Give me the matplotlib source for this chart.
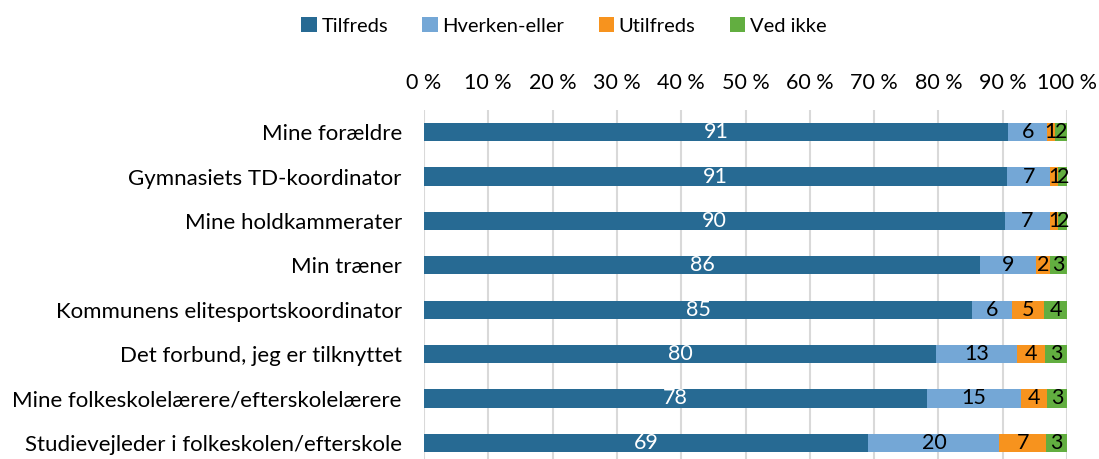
import matplotlib.pyplot as plt
import numpy as np

plt.rcParams['font.family'] = ['Lato', 'DejaVu Sans']

categories = [
    'Mine forældre',
    'Gymnasiets TD-koordinator',
    'Mine holdkammerater',
    'Min træner',
    'Kommunens elitesportskoordinator',
    'Det forbund, jeg er tilknyttet',
    'Mine folkeskolelærere/efterskolelærere',
    'Studievejleder i folkeskolen/efterskole',
]
series = ['Tilfreds', 'Hverken-eller', 'Utilfreds', 'Ved ikke']
tilfreds = [90.9, 90.7, 90.3, 86.5, 85.3, 79.6, 78.2, 69.1]
hverken = [6.0, 6.7, 7.1, 8.7, 6.1, 12.6, 14.7, 20.4]
utilfreds = [1.2, 1.2, 1.2, 2.1, 5.0, 4.4, 4.0, 7.2]
ved_ikke = [1.9, 1.5, 1.5, 2.8, 3.7, 3.4, 3.1, 3.3]
xticks = np.arange(0, 101, 10)

colors = ['#276A93', '#74A7D6', '#F7931E', '#62AE40']
text_colors = ['white', 'black', 'black', 'black']

fig = plt.figure(figsize=(10.99, 4.59), dpi=100)
ax = fig.add_axes([424 / 1099, -6 / 459, (1067 - 424) / 1099, (459 - 110 + 6) / 459])

y = np.arange(len(categories))
left = np.zeros(len(categories))
for name, vals, c, tc in zip(series, [tilfreds, hverken, utilfreds, ved_ikke], colors, text_colors):
    vals = np.array(vals)
    ax.barh(y, vals, left=left, height=0.41, color=c, label=name, zorder=3)
    for yi, l, v in zip(y, left, vals):
        ax.text(l + v / 2, yi, f'{round(v):d}', ha='center', va='center',
                color=tc, fontsize=15.5, zorder=4)
    left += vals

ax.set_xlim(0, 100)
ax.set_ylim(len(categories) - 0.5, -0.5)
ax.set_yticks(y)
ax.set_yticklabels(categories, fontsize=16)
ax.set_xticks(xticks)
ax.set_xticklabels([f'{t} %' for t in xticks], fontsize=15.5)
ax.xaxis.tick_top()
ax.tick_params(axis='both', length=0)
ax.tick_params(axis='x', pad=12)
ax.tick_params(axis='y', pad=16)
ax.grid(axis='x', color='#D9D9D9', linewidth=1.5, zorder=0)
for s in ax.spines.values():
    s.set_visible(False)

handles, labels = ax.get_legend_handles_labels()
fig.legend(handles, labels, loc='center', bbox_to_anchor=(564 / 1099, 1 - 26 / 459),
           ncol=4, frameon=False, fontsize=14.5, handlelength=0.75, handleheight=0.75,
           handletextpad=0.25, columnspacing=1.7)

fig.savefig('out.png', dpi=100)
